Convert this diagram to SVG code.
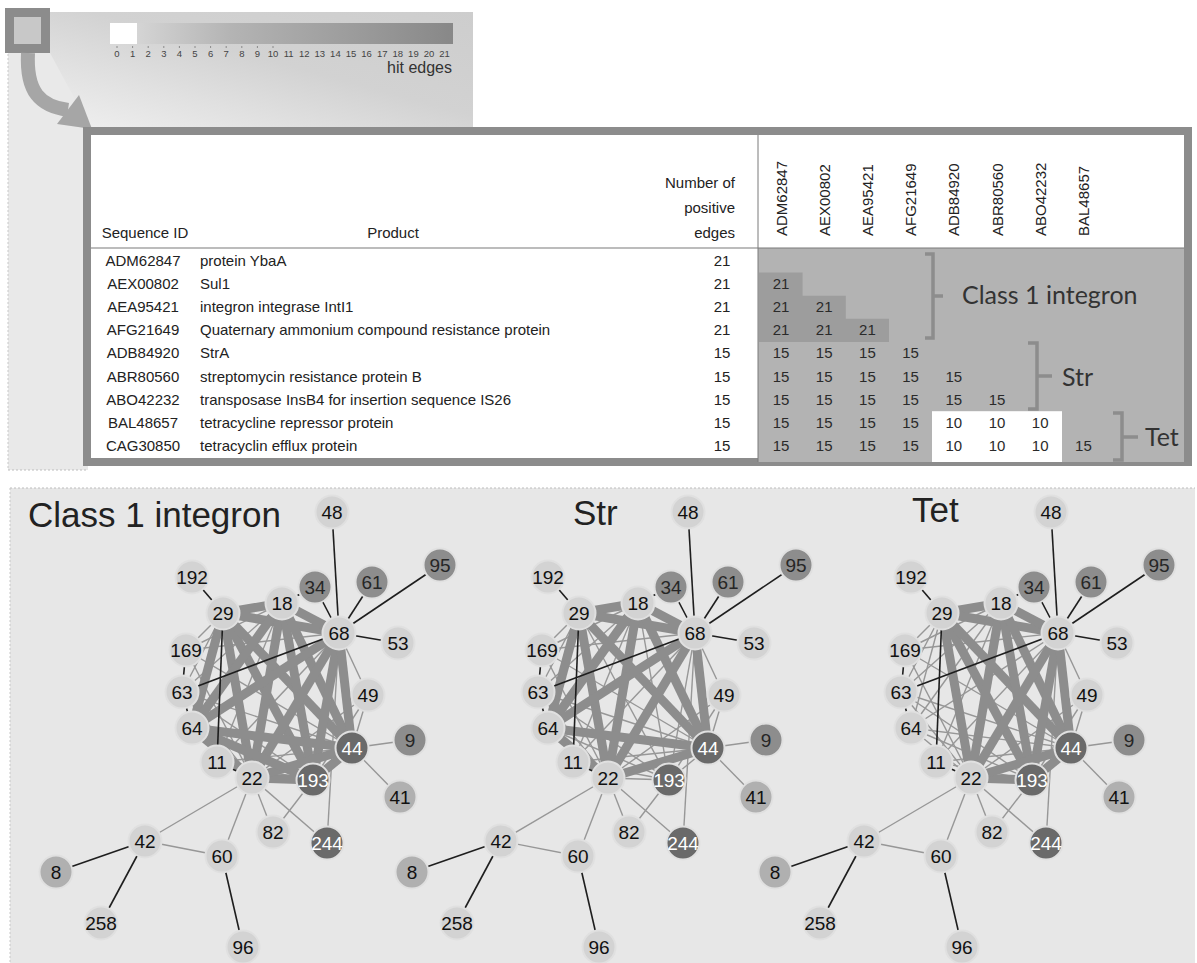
<svg xmlns="http://www.w3.org/2000/svg" width="1197" height="963" viewBox="0 0 1197 963">
<defs>
<linearGradient id="cone" x1="0" y1="1" x2="1" y2="0">
<stop offset="0" stop-color="#f0f0f0"/><stop offset="0.3" stop-color="#e0e0e0"/><stop offset="0.55" stop-color="#d2d2d2"/><stop offset="1" stop-color="#cdcdcd"/>
</linearGradient>
<linearGradient id="bar" x1="0" y1="0" x2="1" y2="0">
<stop offset="0" stop-color="#dedede"/><stop offset="0.35" stop-color="#b4b4b4"/><stop offset="1" stop-color="#888888"/>
</linearGradient>
<style>
.tb{font-family:"Liberation Sans",Arial,sans-serif;font-size:15px;fill:#222}
.mid{text-anchor:middle}
.end{text-anchor:end}
.lbl{font-family:Lato,"Open Sans",sans-serif;font-size:25px;fill:#333}
.ttl{font-family:"Liberation Sans",Arial,sans-serif;font-size:35px;fill:#222}
.tick{font-family:"Liberation Sans",Arial,sans-serif;font-size:9.5px;fill:#444;text-anchor:middle}
.t{stroke:#979797;stroke-width:1.4}
.T{stroke:#8d8d8d;stroke-width:9}
.k{stroke:#1e1e1e;stroke-width:1.6}
.nd text{font-family:"Liberation Sans",Arial,sans-serif;font-size:19px;text-anchor:middle;fill:#111}
.nd circle{stroke:#e0e0e0;stroke-width:2}
.l circle{fill:#d3d3d3}
.m circle{fill:#b0b0b0}
.d circle{fill:#8d8d8d}
.d text{fill:#262626}
.x circle{fill:#6a6a6a}
.x text{fill:#ffffff}
.br{fill:none;stroke:#8d8d8d;stroke-width:3.5}
</style>
</defs>
<rect width="1197" height="963" fill="#ffffff"/>
<rect x="8" y="50" width="80" height="420" fill="#e9e9e9"/>
<polygon points="50,12 473,12 473,127 90,127 50,53" fill="url(#cone)"/>
<line x1="8" y1="470" x2="88" y2="470" stroke="#bdbdbd" stroke-dasharray="2 2"/>
<line x1="8" y1="50" x2="8" y2="470" stroke="#c8c8c8" stroke-dasharray="2 2"/>
<g id="zoom-square">
<rect x="9.5" y="12.5" width="36" height="36" fill="#c8c8c8" stroke="#8c8c8c" stroke-width="9"/>
</g>
<g id="zoom-arrow">
<path d="M28,53 C26,92 40,106 68,110" fill="none" stroke="#a6a6a6" stroke-width="14"/>
<polygon points="92,129 57,124 79,95" fill="#a6a6a6"/>
</g>
<g id="legend">
<rect x="110" y="23" width="343" height="21" fill="url(#bar)"/>
<rect x="110" y="23" width="27" height="21" fill="#ffffff"/>
<g stroke="#777" stroke-width="0.8">
<line x1="117" y1="46" x2="117" y2="48"/><line x1="132.6" y1="46" x2="132.6" y2="48"/><line x1="148.2" y1="46" x2="148.2" y2="48"/><line x1="163.8" y1="46" x2="163.8" y2="48"/><line x1="179.4" y1="46" x2="179.4" y2="48"/><line x1="195" y1="46" x2="195" y2="48"/><line x1="210.6" y1="46" x2="210.6" y2="48"/><line x1="226.2" y1="46" x2="226.2" y2="48"/><line x1="241.8" y1="46" x2="241.8" y2="48"/><line x1="257.4" y1="46" x2="257.4" y2="48"/><line x1="273" y1="46" x2="273" y2="48"/>
</g>
<text class="tick" x="117" y="57">0</text><text class="tick" x="132.6" y="57">1</text><text class="tick" x="148.2" y="57">2</text><text class="tick" x="163.8" y="57">3</text><text class="tick" x="179.4" y="57">4</text><text class="tick" x="195" y="57">5</text><text class="tick" x="210.6" y="57">6</text><text class="tick" x="226.2" y="57">7</text><text class="tick" x="241.8" y="57">8</text><text class="tick" x="257.4" y="57">9</text><text class="tick" x="273" y="57">10</text><text class="tick" x="288.6" y="57">11</text><text class="tick" x="304.2" y="57">12</text><text class="tick" x="319.8" y="57">13</text><text class="tick" x="335.4" y="57">14</text><text class="tick" x="351" y="57">15</text><text class="tick" x="366.6" y="57">16</text><text class="tick" x="382.2" y="57">17</text><text class="tick" x="397.8" y="57">18</text><text class="tick" x="413.4" y="57">19</text><text class="tick" x="429" y="57">20</text><text class="tick" x="444.6" y="57">21</text>
<text class="tb end" x="452" y="73" style="font-size:16px;fill:#333">hit edges</text>
</g>
<g id="table">
<rect x="87" y="131" width="1101" height="331" fill="#ffffff" stroke="#8c8c8c" stroke-width="8"/>
<rect x="758" y="248" width="426" height="214" fill="#b3b3b3"/>
<path d="M759,272.6h43.6v23.1h43.2v23.1h43.2v23.1h-130z" fill="#9d9d9d"/>
<rect x="932" y="411.2" width="130" height="50.8" fill="#ffffff"/>
<line x1="91" y1="248" x2="1184" y2="248" stroke="#7a7a7a" stroke-width="1.2"/>
<line x1="758" y1="135" x2="758" y2="462" stroke="#7a7a7a" stroke-width="1"/>
<g class="tb">
<text class="mid" x="145" y="238">Sequence ID</text>
<text class="mid" x="393" y="238">Product</text>
<text class="end" x="735" y="188">Number of</text>
<text class="end" x="735" y="213">positive</text>
<text class="end" x="735" y="238">edges</text>
<text transform="translate(786.5,236) rotate(-90)">ADM62847</text>
<text transform="translate(829.7,236) rotate(-90)">AEX00802</text>
<text transform="translate(872.9,236) rotate(-90)">AEA95421</text>
<text transform="translate(916.1,236) rotate(-90)">AFG21649</text>
<text transform="translate(959.3,236) rotate(-90)">ADB84920</text>
<text transform="translate(1002.5,236) rotate(-90)">ABR80560</text>
<text transform="translate(1045.7,236) rotate(-90)">ABO42232</text>
<text transform="translate(1088.9,236) rotate(-90)">BAL48657</text>
<text class="mid" x="143" y="266">ADM62847</text><text x="200" y="266">protein YbaA</text><text class="mid" x="722" y="266">21</text>
<text class="mid" x="143" y="289.1">AEX00802</text><text x="200" y="289.1">Sul1</text><text class="mid" x="722" y="289.1">21</text>
<text class="mid" x="143" y="312.2">AEA95421</text><text x="200" y="312.2">integron integrase IntI1</text><text class="mid" x="722" y="312.2">21</text>
<text class="mid" x="143" y="335.3">AFG21649</text><text x="200" y="335.3">Quaternary ammonium compound resistance protein</text><text class="mid" x="722" y="335.3">21</text>
<text class="mid" x="143" y="358.4">ADB84920</text><text x="200" y="358.4">StrA</text><text class="mid" x="722" y="358.4">15</text>
<text class="mid" x="143" y="381.5">ABR80560</text><text x="200" y="381.5">streptomycin resistance protein B</text><text class="mid" x="722" y="381.5">15</text>
<text class="mid" x="143" y="404.6">ABO42232</text><text x="200" y="404.6">transposase InsB4 for insertion sequence IS26</text><text class="mid" x="722" y="404.6">15</text>
<text class="mid" x="143" y="427.7">BAL48657</text><text x="200" y="427.7">tetracycline repressor protein</text><text class="mid" x="722" y="427.7">15</text>
<text class="mid" x="143" y="450.8">CAG30850</text><text x="200" y="450.8">tetracyclin efflux protein</text><text class="mid" x="722" y="450.8">15</text>
</g>
<g class="tb mid" style="fill:#2a2a2a">
<text x="781" y="289.1">21</text>
<text x="781" y="312.2">21</text><text x="824.2" y="312.2">21</text>
<text x="781" y="335.3">21</text><text x="824.2" y="335.3">21</text><text x="867.4" y="335.3">21</text>
<text x="781" y="358.4">15</text><text x="824.2" y="358.4">15</text><text x="867.4" y="358.4">15</text><text x="910.6" y="358.4">15</text>
<text x="781" y="381.5">15</text><text x="824.2" y="381.5">15</text><text x="867.4" y="381.5">15</text><text x="910.6" y="381.5">15</text><text x="953.8" y="381.5">15</text>
<text x="781" y="404.6">15</text><text x="824.2" y="404.6">15</text><text x="867.4" y="404.6">15</text><text x="910.6" y="404.6">15</text><text x="953.8" y="404.6">15</text><text x="997" y="404.6">15</text>
<text x="781" y="427.7">15</text><text x="824.2" y="427.7">15</text><text x="867.4" y="427.7">15</text><text x="910.6" y="427.7">15</text><text x="953.8" y="427.7">10</text><text x="997" y="427.7">10</text><text x="1040.2" y="427.7">10</text>
<text x="781" y="450.8">15</text><text x="824.2" y="450.8">15</text><text x="867.4" y="450.8">15</text><text x="910.6" y="450.8">15</text><text x="953.8" y="450.8">10</text><text x="997" y="450.8">10</text><text x="1040.2" y="450.8">10</text><text x="1083.4" y="450.8">15</text>
</g>
<path class="br" d="M925,254H933V338H925M933,296H943"/>
<path class="br" d="M1028,343H1037V409H1028M1037,376H1052"/>
<path class="br" d="M1113,413H1122V460H1113M1122,437H1138"/>
<text class="lbl" x="962" y="304">Class 1 integron</text>
<text class="lbl" x="1062" y="386">Str</text>
<text class="lbl" x="1145" y="446">Tet</text>
</g>
<rect x="10" y="488" width="1185" height="475" fill="#e7e7e7"/>
<line x1="10" y1="488" x2="1195" y2="488" stroke="#bdbdbd" stroke-dasharray="2 2"/>
<line x1="10" y1="488" x2="10" y2="963" stroke="#c8c8c8" stroke-dasharray="2 2"/>
<text class="ttl" x="28" y="527">Class 1 integron</text>
<text class="ttl" x="573" y="525">Str</text>
<text class="ttl" x="912" y="522">Tet</text>

<g id="p1">
<g id="p1-edges">
<g class="t">
<line x1="252" y1="778" x2="145" y2="841"/><line x1="252" y1="778" x2="222" y2="856"/><line x1="145" y1="841" x2="222" y2="856"/><line x1="252" y1="778" x2="273" y2="832"/><line x1="313" y1="780" x2="273" y2="832"/><line x1="252" y1="778" x2="327" y2="843"/><line x1="339" y1="633" x2="327" y2="843"/><line x1="352" y1="748" x2="410" y2="740"/><line x1="352" y1="748" x2="400" y2="797"/><line x1="368" y1="695" x2="352" y2="748"/><line x1="339" y1="633" x2="368" y2="695"/><line x1="186" y1="650" x2="223" y2="613"/><line x1="186" y1="650" x2="282" y2="603"/><line x1="186" y1="650" x2="339" y2="633"/><line x1="186" y1="650" x2="252" y2="778"/><line x1="186" y1="650" x2="352" y2="748"/><line x1="182" y1="692" x2="223" y2="613"/><line x1="182" y1="692" x2="282" y2="603"/><line x1="182" y1="692" x2="252" y2="778"/><line x1="182" y1="692" x2="313" y2="780"/><line x1="182" y1="692" x2="352" y2="748"/><line x1="217" y1="762" x2="282" y2="603"/><line x1="217" y1="762" x2="339" y2="633"/><line x1="217" y1="762" x2="313" y2="780"/><line x1="217" y1="762" x2="352" y2="748"/><line x1="368" y1="695" x2="252" y2="778"/><line x1="368" y1="695" x2="313" y2="780"/>
</g>
<g class="T">
<line x1="223" y1="613" x2="282" y2="603"/><line x1="223" y1="613" x2="339" y2="633"/><line x1="223" y1="613" x2="252" y2="778"/><line x1="223" y1="613" x2="313" y2="780"/><line x1="223" y1="613" x2="352" y2="748"/><line x1="223" y1="613" x2="192" y2="728"/><line x1="282" y1="603" x2="339" y2="633"/><line x1="282" y1="603" x2="252" y2="778"/><line x1="282" y1="603" x2="313" y2="780"/><line x1="282" y1="603" x2="352" y2="748"/><line x1="282" y1="603" x2="192" y2="728"/><line x1="339" y1="633" x2="252" y2="778"/><line x1="339" y1="633" x2="313" y2="780"/><line x1="339" y1="633" x2="352" y2="748"/><line x1="339" y1="633" x2="192" y2="728"/><line x1="252" y1="778" x2="313" y2="780"/><line x1="252" y1="778" x2="352" y2="748"/><line x1="252" y1="778" x2="192" y2="728"/><line x1="313" y1="780" x2="352" y2="748"/><line x1="313" y1="780" x2="192" y2="728"/><line x1="352" y1="748" x2="192" y2="728"/>
</g>
<g class="k">
<line x1="332" y1="512" x2="339" y2="633"/><line x1="315" y1="587" x2="339" y2="633"/><line x1="372" y1="582" x2="339" y2="633"/><line x1="440" y1="565" x2="339" y2="633"/><line x1="398" y1="643" x2="339" y2="633"/><line x1="192" y1="577" x2="223" y2="613"/><line x1="282" y1="603" x2="315" y2="587"/><line x1="182" y1="692" x2="339" y2="633"/><line x1="186" y1="650" x2="182" y2="692"/><line x1="182" y1="692" x2="192" y2="728"/><line x1="223" y1="613" x2="217" y2="762"/><line x1="217" y1="762" x2="252" y2="778"/><line x1="56" y1="872" x2="145" y2="841"/><line x1="145" y1="841" x2="101" y2="923"/><line x1="222" y1="856" x2="243" y2="947"/>
</g>
</g>
<g id="p1-n48" class="nd l"><circle cx="332" cy="512" r="16.5"/><text x="332" y="519">48</text></g>
<g id="p1-n192" class="nd l"><circle cx="192" cy="577" r="16.5"/><text x="192" y="584">192</text></g>
<g id="p1-n34" class="nd d"><circle cx="315" cy="587" r="16.5"/><text x="315" y="594">34</text></g>
<g id="p1-n61" class="nd d"><circle cx="372" cy="582" r="16.5"/><text x="372" y="589">61</text></g>
<g id="p1-n95" class="nd d"><circle cx="440" cy="565" r="16.5"/><text x="440" y="572">95</text></g>
<g id="p1-n29" class="nd l"><circle cx="223" cy="613" r="16.5"/><text x="223" y="620">29</text></g>
<g id="p1-n18" class="nd l"><circle cx="282" cy="603" r="16.5"/><text x="282" y="610">18</text></g>
<g id="p1-n68" class="nd l"><circle cx="339" cy="633" r="16.5"/><text x="339" y="640">68</text></g>
<g id="p1-n53" class="nd l"><circle cx="398" cy="643" r="16.5"/><text x="398" y="650">53</text></g>
<g id="p1-n169" class="nd l"><circle cx="186" cy="650" r="16.5"/><text x="186" y="657">169</text></g>
<g id="p1-n63" class="nd l"><circle cx="182" cy="692" r="16.5"/><text x="182" y="699">63</text></g>
<g id="p1-n49" class="nd l"><circle cx="368" cy="695" r="16.5"/><text x="368" y="702">49</text></g>
<g id="p1-n64" class="nd l"><circle cx="192" cy="728" r="16.5"/><text x="192" y="735">64</text></g>
<g id="p1-n44" class="nd x"><circle cx="352" cy="748" r="16.5"/><text x="352" y="755">44</text></g>
<g id="p1-n9" class="nd d"><circle cx="410" cy="740" r="16.5"/><text x="410" y="747">9</text></g>
<g id="p1-n11" class="nd l"><circle cx="217" cy="762" r="16.5"/><text x="217" y="769">11</text></g>
<g id="p1-n22" class="nd l"><circle cx="252" cy="778" r="16.5"/><text x="252" y="785">22</text></g>
<g id="p1-n193" class="nd x"><circle cx="313" cy="780" r="16.5"/><text x="313" y="787">193</text></g>
<g id="p1-n41" class="nd m"><circle cx="400" cy="797" r="16.5"/><text x="400" y="804">41</text></g>
<g id="p1-n82" class="nd l"><circle cx="273" cy="832" r="16.5"/><text x="273" y="839">82</text></g>
<g id="p1-n244" class="nd x"><circle cx="327" cy="843" r="16.5"/><text x="327" y="850">244</text></g>
<g id="p1-n42" class="nd l"><circle cx="145" cy="841" r="16.5"/><text x="145" y="848">42</text></g>
<g id="p1-n60" class="nd l"><circle cx="222" cy="856" r="16.5"/><text x="222" y="863">60</text></g>
<g id="p1-n8" class="nd m"><circle cx="56" cy="872" r="16.5"/><text x="56" y="879">8</text></g>
<g id="p1-n258" class="nd l"><circle cx="101" cy="923" r="16.5"/><text x="101" y="930">258</text></g>
<g id="p1-n96" class="nd l"><circle cx="243" cy="947" r="16.5"/><text x="243" y="954">96</text></g>
</g>

<g id="p2" transform="translate(356,0)">
<g id="p2-edges">
<g class="t">
<line x1="252" y1="778" x2="145" y2="841"/><line x1="252" y1="778" x2="222" y2="856"/><line x1="145" y1="841" x2="222" y2="856"/><line x1="252" y1="778" x2="273" y2="832"/><line x1="313" y1="780" x2="273" y2="832"/><line x1="252" y1="778" x2="327" y2="843"/><line x1="339" y1="633" x2="327" y2="843"/><line x1="352" y1="748" x2="410" y2="740"/><line x1="352" y1="748" x2="400" y2="797"/><line x1="368" y1="695" x2="352" y2="748"/><line x1="339" y1="633" x2="368" y2="695"/><line x1="186" y1="650" x2="223" y2="613"/><line x1="186" y1="650" x2="282" y2="603"/><line x1="186" y1="650" x2="339" y2="633"/><line x1="186" y1="650" x2="252" y2="778"/><line x1="186" y1="650" x2="352" y2="748"/><line x1="182" y1="692" x2="223" y2="613"/><line x1="182" y1="692" x2="282" y2="603"/><line x1="182" y1="692" x2="252" y2="778"/><line x1="182" y1="692" x2="313" y2="780"/><line x1="182" y1="692" x2="352" y2="748"/><line x1="217" y1="762" x2="282" y2="603"/><line x1="217" y1="762" x2="339" y2="633"/><line x1="217" y1="762" x2="313" y2="780"/><line x1="217" y1="762" x2="352" y2="748"/><line x1="368" y1="695" x2="252" y2="778"/><line x1="368" y1="695" x2="313" y2="780"/>
<line x1="223" y1="613" x2="313" y2="780"/><line x1="282" y1="603" x2="313" y2="780"/><line x1="339" y1="633" x2="313" y2="780"/><line x1="252" y1="778" x2="313" y2="780"/><line x1="313" y1="780" x2="352" y2="748"/><line x1="313" y1="780" x2="192" y2="728"/>
</g>
<g class="T">
<line x1="223" y1="613" x2="282" y2="603"/><line x1="223" y1="613" x2="339" y2="633"/><line x1="223" y1="613" x2="252" y2="778"/><line x1="223" y1="613" x2="352" y2="748"/><line x1="223" y1="613" x2="192" y2="728"/><line x1="282" y1="603" x2="339" y2="633"/><line x1="282" y1="603" x2="252" y2="778"/><line x1="282" y1="603" x2="352" y2="748"/><line x1="282" y1="603" x2="192" y2="728"/><line x1="339" y1="633" x2="252" y2="778"/><line x1="339" y1="633" x2="352" y2="748"/><line x1="339" y1="633" x2="192" y2="728"/><line x1="252" y1="778" x2="352" y2="748"/><line x1="252" y1="778" x2="192" y2="728"/><line x1="352" y1="748" x2="192" y2="728"/>
</g>
<g class="k">
<line x1="332" y1="512" x2="339" y2="633"/><line x1="315" y1="587" x2="339" y2="633"/><line x1="372" y1="582" x2="339" y2="633"/><line x1="440" y1="565" x2="339" y2="633"/><line x1="398" y1="643" x2="339" y2="633"/><line x1="192" y1="577" x2="223" y2="613"/><line x1="282" y1="603" x2="315" y2="587"/><line x1="182" y1="692" x2="339" y2="633"/><line x1="186" y1="650" x2="182" y2="692"/><line x1="182" y1="692" x2="192" y2="728"/><line x1="223" y1="613" x2="217" y2="762"/><line x1="217" y1="762" x2="252" y2="778"/><line x1="56" y1="872" x2="145" y2="841"/><line x1="145" y1="841" x2="101" y2="923"/><line x1="222" y1="856" x2="243" y2="947"/>
</g>
</g>
<g id="p2-n48" class="nd l"><circle cx="332" cy="512" r="16.5"/><text x="332" y="519">48</text></g>
<g id="p2-n192" class="nd l"><circle cx="192" cy="577" r="16.5"/><text x="192" y="584">192</text></g>
<g id="p2-n34" class="nd d"><circle cx="315" cy="587" r="16.5"/><text x="315" y="594">34</text></g>
<g id="p2-n61" class="nd d"><circle cx="372" cy="582" r="16.5"/><text x="372" y="589">61</text></g>
<g id="p2-n95" class="nd d"><circle cx="440" cy="565" r="16.5"/><text x="440" y="572">95</text></g>
<g id="p2-n29" class="nd l"><circle cx="223" cy="613" r="16.5"/><text x="223" y="620">29</text></g>
<g id="p2-n18" class="nd l"><circle cx="282" cy="603" r="16.5"/><text x="282" y="610">18</text></g>
<g id="p2-n68" class="nd l"><circle cx="339" cy="633" r="16.5"/><text x="339" y="640">68</text></g>
<g id="p2-n53" class="nd l"><circle cx="398" cy="643" r="16.5"/><text x="398" y="650">53</text></g>
<g id="p2-n169" class="nd l"><circle cx="186" cy="650" r="16.5"/><text x="186" y="657">169</text></g>
<g id="p2-n63" class="nd l"><circle cx="182" cy="692" r="16.5"/><text x="182" y="699">63</text></g>
<g id="p2-n49" class="nd l"><circle cx="368" cy="695" r="16.5"/><text x="368" y="702">49</text></g>
<g id="p2-n64" class="nd l"><circle cx="192" cy="728" r="16.5"/><text x="192" y="735">64</text></g>
<g id="p2-n44" class="nd x"><circle cx="352" cy="748" r="16.5"/><text x="352" y="755">44</text></g>
<g id="p2-n9" class="nd d"><circle cx="410" cy="740" r="16.5"/><text x="410" y="747">9</text></g>
<g id="p2-n11" class="nd l"><circle cx="217" cy="762" r="16.5"/><text x="217" y="769">11</text></g>
<g id="p2-n22" class="nd l"><circle cx="252" cy="778" r="16.5"/><text x="252" y="785">22</text></g>
<g id="p2-n193" class="nd x"><circle cx="313" cy="780" r="16.5"/><text x="313" y="787">193</text></g>
<g id="p2-n41" class="nd m"><circle cx="400" cy="797" r="16.5"/><text x="400" y="804">41</text></g>
<g id="p2-n82" class="nd l"><circle cx="273" cy="832" r="16.5"/><text x="273" y="839">82</text></g>
<g id="p2-n244" class="nd x"><circle cx="327" cy="843" r="16.5"/><text x="327" y="850">244</text></g>
<g id="p2-n42" class="nd l"><circle cx="145" cy="841" r="16.5"/><text x="145" y="848">42</text></g>
<g id="p2-n60" class="nd l"><circle cx="222" cy="856" r="16.5"/><text x="222" y="863">60</text></g>
<g id="p2-n8" class="nd m"><circle cx="56" cy="872" r="16.5"/><text x="56" y="879">8</text></g>
<g id="p2-n258" class="nd l"><circle cx="101" cy="923" r="16.5"/><text x="101" y="930">258</text></g>
<g id="p2-n96" class="nd l"><circle cx="243" cy="947" r="16.5"/><text x="243" y="954">96</text></g>
</g>

<g id="p3" transform="translate(719,0)">
<g id="p3-edges">
<g class="t">
<line x1="252" y1="778" x2="145" y2="841"/><line x1="252" y1="778" x2="222" y2="856"/><line x1="145" y1="841" x2="222" y2="856"/><line x1="252" y1="778" x2="273" y2="832"/><line x1="313" y1="780" x2="273" y2="832"/><line x1="252" y1="778" x2="327" y2="843"/><line x1="339" y1="633" x2="327" y2="843"/><line x1="352" y1="748" x2="410" y2="740"/><line x1="352" y1="748" x2="400" y2="797"/><line x1="368" y1="695" x2="352" y2="748"/><line x1="339" y1="633" x2="368" y2="695"/><line x1="186" y1="650" x2="223" y2="613"/><line x1="186" y1="650" x2="282" y2="603"/><line x1="186" y1="650" x2="339" y2="633"/><line x1="186" y1="650" x2="252" y2="778"/><line x1="186" y1="650" x2="352" y2="748"/><line x1="182" y1="692" x2="223" y2="613"/><line x1="182" y1="692" x2="282" y2="603"/><line x1="182" y1="692" x2="252" y2="778"/><line x1="182" y1="692" x2="313" y2="780"/><line x1="182" y1="692" x2="352" y2="748"/><line x1="217" y1="762" x2="282" y2="603"/><line x1="217" y1="762" x2="339" y2="633"/><line x1="217" y1="762" x2="313" y2="780"/><line x1="217" y1="762" x2="352" y2="748"/><line x1="368" y1="695" x2="252" y2="778"/><line x1="368" y1="695" x2="313" y2="780"/>
<line x1="223" y1="613" x2="192" y2="728"/><line x1="282" y1="603" x2="192" y2="728"/><line x1="339" y1="633" x2="192" y2="728"/><line x1="252" y1="778" x2="192" y2="728"/><line x1="313" y1="780" x2="192" y2="728"/><line x1="352" y1="748" x2="192" y2="728"/>
</g>
<g class="T">
<line x1="223" y1="613" x2="282" y2="603"/><line x1="223" y1="613" x2="339" y2="633"/><line x1="223" y1="613" x2="252" y2="778"/><line x1="223" y1="613" x2="313" y2="780"/><line x1="223" y1="613" x2="352" y2="748"/><line x1="282" y1="603" x2="339" y2="633"/><line x1="282" y1="603" x2="252" y2="778"/><line x1="282" y1="603" x2="313" y2="780"/><line x1="282" y1="603" x2="352" y2="748"/><line x1="339" y1="633" x2="252" y2="778"/><line x1="339" y1="633" x2="313" y2="780"/><line x1="339" y1="633" x2="352" y2="748"/><line x1="252" y1="778" x2="313" y2="780"/><line x1="252" y1="778" x2="352" y2="748"/><line x1="313" y1="780" x2="352" y2="748"/>
</g>
<g class="k">
<line x1="332" y1="512" x2="339" y2="633"/><line x1="315" y1="587" x2="339" y2="633"/><line x1="372" y1="582" x2="339" y2="633"/><line x1="440" y1="565" x2="339" y2="633"/><line x1="398" y1="643" x2="339" y2="633"/><line x1="192" y1="577" x2="223" y2="613"/><line x1="282" y1="603" x2="315" y2="587"/><line x1="182" y1="692" x2="339" y2="633"/><line x1="186" y1="650" x2="182" y2="692"/><line x1="182" y1="692" x2="192" y2="728"/><line x1="223" y1="613" x2="217" y2="762"/><line x1="217" y1="762" x2="252" y2="778"/><line x1="56" y1="872" x2="145" y2="841"/><line x1="145" y1="841" x2="101" y2="923"/><line x1="222" y1="856" x2="243" y2="947"/>
</g>
</g>
<g id="p3-n48" class="nd l"><circle cx="332" cy="512" r="16.5"/><text x="332" y="519">48</text></g>
<g id="p3-n192" class="nd l"><circle cx="192" cy="577" r="16.5"/><text x="192" y="584">192</text></g>
<g id="p3-n34" class="nd d"><circle cx="315" cy="587" r="16.5"/><text x="315" y="594">34</text></g>
<g id="p3-n61" class="nd d"><circle cx="372" cy="582" r="16.5"/><text x="372" y="589">61</text></g>
<g id="p3-n95" class="nd d"><circle cx="440" cy="565" r="16.5"/><text x="440" y="572">95</text></g>
<g id="p3-n29" class="nd l"><circle cx="223" cy="613" r="16.5"/><text x="223" y="620">29</text></g>
<g id="p3-n18" class="nd l"><circle cx="282" cy="603" r="16.5"/><text x="282" y="610">18</text></g>
<g id="p3-n68" class="nd l"><circle cx="339" cy="633" r="16.5"/><text x="339" y="640">68</text></g>
<g id="p3-n53" class="nd l"><circle cx="398" cy="643" r="16.5"/><text x="398" y="650">53</text></g>
<g id="p3-n169" class="nd l"><circle cx="186" cy="650" r="16.5"/><text x="186" y="657">169</text></g>
<g id="p3-n63" class="nd l"><circle cx="182" cy="692" r="16.5"/><text x="182" y="699">63</text></g>
<g id="p3-n49" class="nd l"><circle cx="368" cy="695" r="16.5"/><text x="368" y="702">49</text></g>
<g id="p3-n64" class="nd l"><circle cx="192" cy="728" r="16.5"/><text x="192" y="735">64</text></g>
<g id="p3-n44" class="nd x"><circle cx="352" cy="748" r="16.5"/><text x="352" y="755">44</text></g>
<g id="p3-n9" class="nd d"><circle cx="410" cy="740" r="16.5"/><text x="410" y="747">9</text></g>
<g id="p3-n11" class="nd l"><circle cx="217" cy="762" r="16.5"/><text x="217" y="769">11</text></g>
<g id="p3-n22" class="nd l"><circle cx="252" cy="778" r="16.5"/><text x="252" y="785">22</text></g>
<g id="p3-n193" class="nd x"><circle cx="313" cy="780" r="16.5"/><text x="313" y="787">193</text></g>
<g id="p3-n41" class="nd m"><circle cx="400" cy="797" r="16.5"/><text x="400" y="804">41</text></g>
<g id="p3-n82" class="nd l"><circle cx="273" cy="832" r="16.5"/><text x="273" y="839">82</text></g>
<g id="p3-n244" class="nd x"><circle cx="327" cy="843" r="16.5"/><text x="327" y="850">244</text></g>
<g id="p3-n42" class="nd l"><circle cx="145" cy="841" r="16.5"/><text x="145" y="848">42</text></g>
<g id="p3-n60" class="nd l"><circle cx="222" cy="856" r="16.5"/><text x="222" y="863">60</text></g>
<g id="p3-n8" class="nd m"><circle cx="56" cy="872" r="16.5"/><text x="56" y="879">8</text></g>
<g id="p3-n258" class="nd l"><circle cx="101" cy="923" r="16.5"/><text x="101" y="930">258</text></g>
<g id="p3-n96" class="nd l"><circle cx="243" cy="947" r="16.5"/><text x="243" y="954">96</text></g>
</g>
</svg>
